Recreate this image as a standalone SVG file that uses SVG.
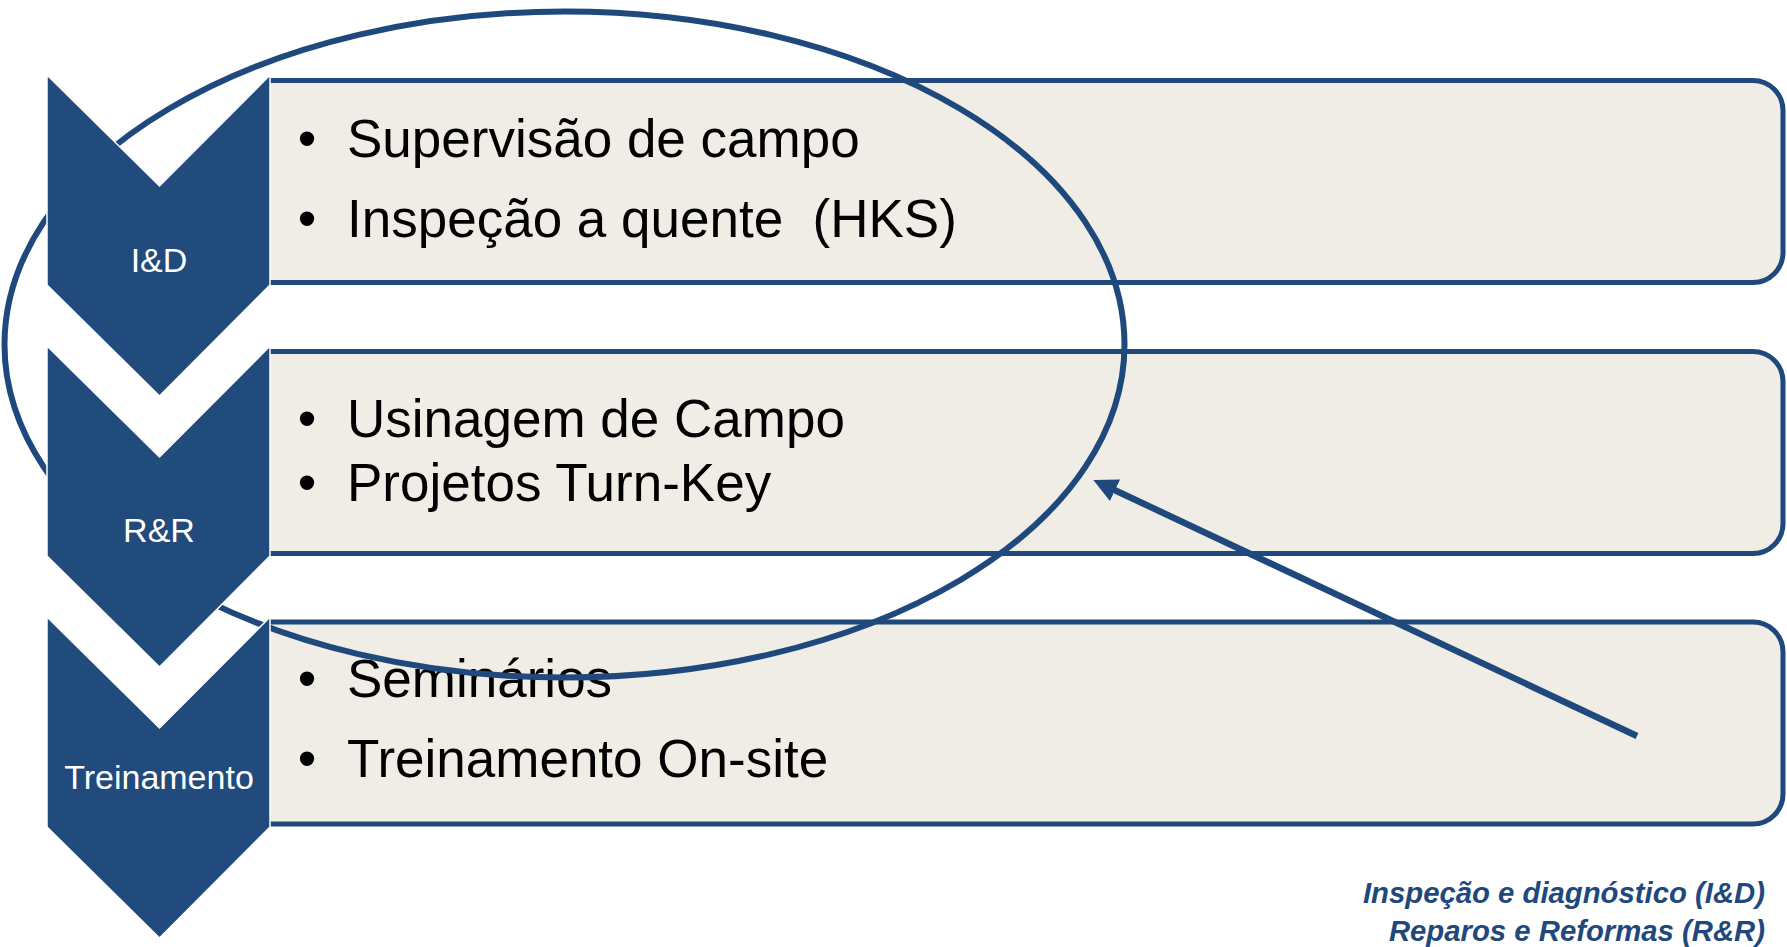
<svg xmlns="http://www.w3.org/2000/svg" width="1787" height="947" viewBox="0 0 1787 947">
<defs>
<style>
.box{fill:#EFEDE5;stroke:#1F497D;stroke-width:5}
.chev{fill:#214A7D;stroke:#FFFFFF;stroke-width:1.5}
.lbl{font-family:"Liberation Sans",Arial,sans-serif;font-size:34px;fill:#FFFFFF;text-anchor:middle}
.item{font-family:"Liberation Sans",Arial,sans-serif;font-size:53px;fill:#000000}
.bul{font-family:"Liberation Sans",Arial,sans-serif;font-size:53px;fill:#000000;text-anchor:middle}
.note{font-family:"Liberation Sans",Arial,sans-serif;font-size:29.3px;font-weight:bold;font-style:italic;fill:#1F497D;text-anchor:end}
.conn{fill:none;stroke:#1F497D}
</style>
<marker id="arrow" markerUnits="userSpaceOnUse" markerWidth="26" markerHeight="26" viewBox="0 -13 26 26" refX="6" refY="0" orient="auto">
<path d="M0,-12 L24,0 L0,12 z" fill="#1F497D"/>
</marker>
</defs>
<rect width="1787" height="947" fill="#FFFFFF"/>

<g id="content-id">
<path class="box" d="M270,80.5 H1753 A30,30 0 0 1 1783,110.5 V252.5 A30,30 0 0 1 1753,282.5 H270"/>
<text class="bul" x="307" y="157">•</text>
<text class="item" x="347" y="157">Supervisão de campo</text>
<text class="bul" x="307" y="237">•</text>
<text class="item" x="347" y="237" xml:space="preserve">Inspeção a quente  (HKS)</text>
</g>

<g id="content-rr">
<path class="box" d="M270,351.5 H1753 A30,30 0 0 1 1783,381.5 V523.5 A30,30 0 0 1 1753,553.5 H270"/>
<text class="bul" x="307" y="437">•</text>
<text class="item" x="347" y="437">Usinagem de Campo</text>
<text class="bul" x="307" y="501">•</text>
<text class="item" x="347" y="501">Projetos Turn-Key</text>
</g>

<g id="content-tr">
<path class="box" d="M270,622 H1753 A30,30 0 0 1 1783,652 V794 A30,30 0 0 1 1753,824 H270"/>
<text class="bul" x="307" y="697">•</text>
<text class="item" x="347" y="697">Seminários</text>
<text class="bul" x="307" y="777">•</text>
<text class="item" x="347" y="777">Treinamento On-site</text>
</g>

<g id="connectors">
<ellipse class="conn" cx="564.5" cy="344.5" rx="560" ry="333" stroke-width="6"/>
<line class="conn" x1="1637" y1="736" x2="1109.6" y2="487.7" stroke-width="6.5" marker-end="url(#arrow)"/>
</g>

<g id="step-id">
<polygon class="chev" points="47,75 159.5,186 270,75 270,285 159.5,396 47,285"/>
<text class="lbl" x="159" y="272">I&amp;D</text>
</g>

<g id="step-rr">
<polygon class="chev" points="47,346 159.5,457 270,346 270,556 159.5,667 47,556"/>
<text class="lbl" x="159" y="542">R&amp;R</text>
</g>

<g id="step-tr">
<polygon class="chev" points="47,617 159.5,728 270,617 270,827 159.5,938 47,827"/>
<text class="lbl" x="159" y="789">Treinamento</text>
</g>

<g id="legend">
<text class="note" x="1765" y="903">Inspeção e diagnóstico (I&amp;D)</text>
<text class="note" x="1765" y="941">Reparos e Reformas (R&amp;R)</text>
</g>
</svg>
